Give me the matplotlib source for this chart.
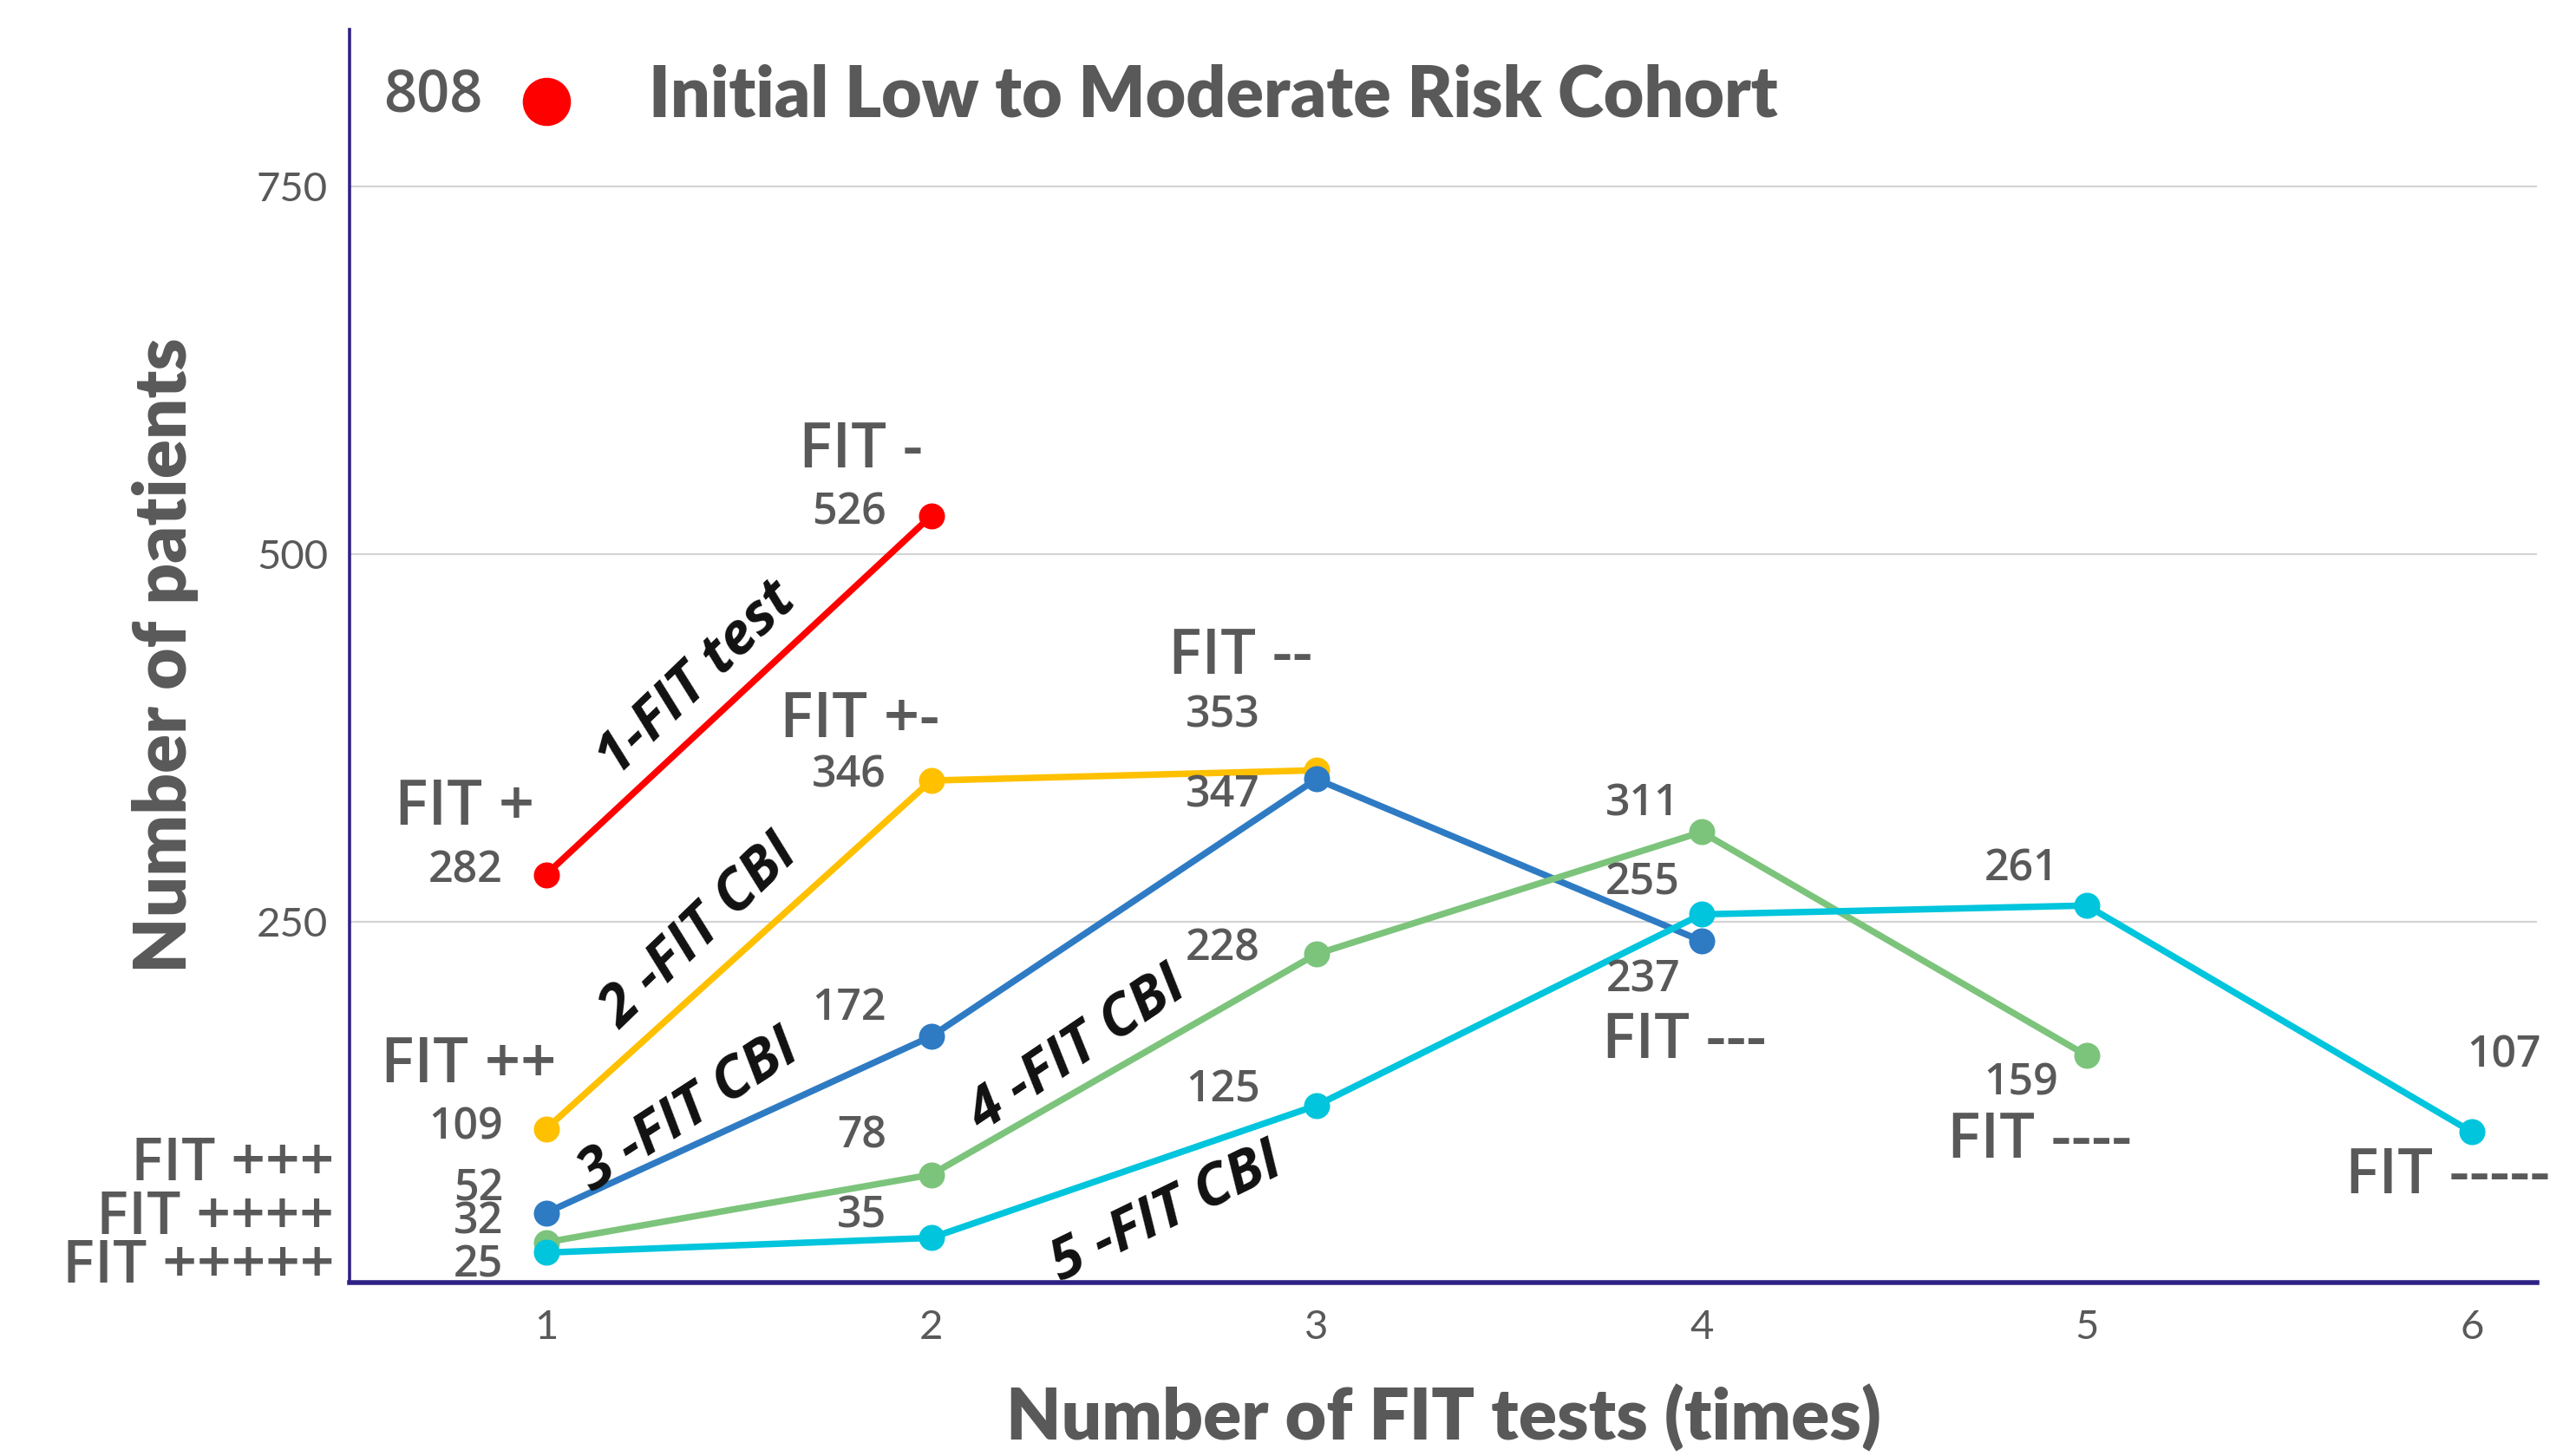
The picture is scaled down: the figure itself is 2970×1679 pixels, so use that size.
import matplotlib
matplotlib.use('Agg')
import matplotlib.pyplot as plt

# ---------------- data ----------------
x_tests = [1, 2, 3, 4, 5, 6]
cohort_total = 808
red_y = [282, 526]
yellow_y = [109, 346, 353]
blue_y = [52, 172, 347, 237]
green_y = [32, 78, 228, 311, 159]
cyan_y = [25, 35, 125, 255, 261, 107]
series_y = [red_y, yellow_y, blue_y, green_y, cyan_y]
series_names = ['1-FIT test', '2 -FIT CBI', '3 -FIT CBI', '4 -FIT CBI', '5 -FIT CBI']
colors = ['#FF0000', '#FFC000', '#2E7BC4', '#7CC47B', '#00C5DC']
y_ticks = [250, 500, 750]
x_ticks = [1, 2, 3, 4, 5, 6]

# FIT result labels: (series index, point index, text)
fit_labels = [
    (0, 0, 'FIT +'), (0, 1, 'FIT -'),
    (1, 0, 'FIT ++'), (1, 1, 'FIT +-'), (1, 2, 'FIT --'),
    (2, 0, 'FIT +++'), (2, 3, 'FIT ---'),
    (3, 0, 'FIT ++++'), (3, 4, 'FIT ----'),
    (4, 0, 'FIT +++++'), (4, 5, 'FIT -----'),
]

# ---------------- style ----------------
K = 0.687  # reference display px -> points
FONT = ['Open Sans', 'DejaVu Sans']
BFONT = ['Lato', 'Open Sans', 'DejaVu Sans']
GREY = '#595959'
NAVY = '#2E2185'

# offsets (reference display px) for the value labels, right-aligned
val_off = {
    (0, 0): (-26, 2), (0, 1): (-27, 2),
    (1, 0): (-26, 1), (1, 1): (-27, 3), (1, 2): (-34, 33),
    (2, 0): (-26, 14), (2, 1): (-27, 17), (2, 2): (-34, -10), (2, 3): (-13, -24),
    (3, 0): (-26, 12), (3, 1): (-27, 23), (3, 2): (-34, 3), (3, 3): (-13, 17), (3, 4): (-17, -17),
    (4, 0): (-26, -8), (4, 1): (-27, 13), (4, 2): (-34, 9), (4, 3): (-13, 19), (4, 4): (-17, 22), (4, 5): (42, 46),
}
fit_off = {
    (0, 0): (-7, 40), (0, 1): (-5, 39),
    (1, 0): (6, 38), (1, 1): (5, 36), (1, 2): (-2, 68),
    (2, 0): (-128, 29), (2, 3): (39, -61),
    (3, 0): (-128, 14), (3, 4): (27, -52),
    (4, 0): (-128, -9), (4, 5): (47, -27),
}
fit_size = {(2, 0): 25, (3, 0): 25, (4, 0): 25}
name_pos = [(1.39, 415, 44), (1.40, 243, 44), (1.37, 121, 33), (2.38, 163, 34), (2.61, 52, 26)]

fig = plt.figure(figsize=(14.85, 8.395), dpi=200)
ax = fig.add_axes([0.1357, 0.119, 0.8493, 0.861])

for ys, c in zip(series_y, colors):
    ax.plot(x_tests[:len(ys)], ys, color=c, lw=2.7, marker='o', ms=9.8,
            solid_capstyle='round', zorder=3, clip_on=False)

# value labels
for si, ys in enumerate(series_y):
    for pi, v in enumerate(ys):
        dx, dy = val_off[(si, pi)]
        ax.annotate(str(v), (x_tests[pi], v), xytext=(dx * K, dy * K),
                    textcoords='offset points', ha='right', va='center',
                    fontsize=18, color=GREY, family=FONT, fontweight='semibold',
                    annotation_clip=False)

for si, pi, t in fit_labels:
    dx, dy = fit_off[(si, pi)]
    v = series_y[si][pi]
    ax.annotate(t, (x_tests[pi], v), xytext=(dx * K, dy * K),
                textcoords='offset points', ha='right', va='center',
                fontsize=fit_size.get((si, pi), 26), color=GREY, family=FONT,
                fontweight='semibold', annotation_clip=False)

for name, (xx, yy, rot) in zip(series_names, name_pos):
    ax.text(xx, yy, name, rotation=rot, rotation_mode='anchor', ha='center', va='center',
            fontsize=24, color='#111111', family=FONT, fontweight='bold', style='italic')

# initial cohort
ax.plot([1], [cohort_total], 'o', color='#FF0000', ms=19, clip_on=False, zorder=4)
ax.annotate(str(cohort_total), (1, cohort_total), xytext=(-38 * K, 3 * K),
            textcoords='offset points', ha='right', va='center', fontsize=24,
            color=GREY, family=FONT, fontweight='semibold', annotation_clip=False)
ax.annotate('Initial Low to Moderate Risk Cohort', (1, cohort_total), xytext=(62 * K, 3 * K),
            textcoords='offset points', ha='left', va='center', fontsize=29,
            color=GREY, family=BFONT, fontweight='heavy', annotation_clip=False)

ax.set_xlim(0.49, 6.17)
ax.set_ylim(4.5, 857)
ax.set_xticks(x_ticks)
ax.set_yticks(y_ticks)
ax.grid(axis='y', color='#D4D4D4', lw=0.8)
ax.set_axisbelow(True)
for s in ['top', 'right']:
    ax.spines[s].set_visible(False)
ax.spines['left'].set_color(NAVY)
ax.spines['left'].set_linewidth(1.3)
ax.spines['bottom'].set_color(NAVY)
ax.spines['bottom'].set_linewidth(2.0)
ax.tick_params(length=0, labelsize=17, labelcolor=GREY)
ax.tick_params(axis='y', pad=9)
ax.tick_params(axis='x', pad=11)
for lab in ax.get_xticklabels() + ax.get_yticklabels():
    lab.set_family(['Lato', 'Open Sans', 'DejaVu Sans'])

fig.text(0.5605, 0.011, 'Number of FIT tests (times)', ha='center', va='baseline',
         fontsize=29.5, color=GREY, family=BFONT, fontweight='heavy')
fig.text(0.064, 0.55, 'Number of patients', ha='center', va='center', rotation=90,
         fontsize=30, color=GREY, family=BFONT, fontweight='heavy')

fig.savefig('out.png', dpi=200)
